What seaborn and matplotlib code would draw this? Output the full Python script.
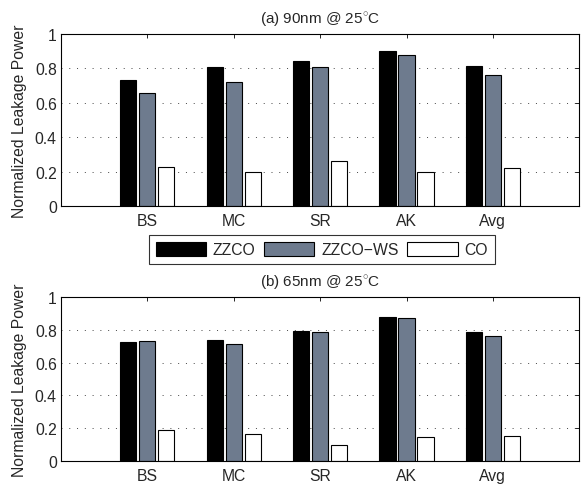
import matplotlib
matplotlib.use("Agg")
import matplotlib.pyplot as plt
import seaborn as sns
import pandas as pd
from matplotlib.ticker import FixedLocator, FuncFormatter

categories = ["BS", "MC", "SR", "AK", "Avg"]
series = ["ZZCO", "ZZCO\u2212WS", "CO"]
zzco_90 = [0.733, 0.806, 0.845, 0.899, 0.812]
zzcows_90 = [0.659, 0.719, 0.806, 0.876, 0.760]
co_90 = [0.229, 0.200, 0.260, 0.198, 0.219]
zzco_65 = [0.725, 0.737, 0.796, 0.880, 0.786]
zzcows_65 = [0.733, 0.713, 0.786, 0.872, 0.764]
co_65 = [0.190, 0.162, 0.096, 0.143, 0.149]
titles = ["(a) 90nm @ 25$^{\\circ}$C", "(b) 65nm @ 25$^{\\circ}$C"]
colors = ["#000000", "#6E7B8E", "#FFFFFF"]

sns.set_theme(style="white")
plt.rcParams['font.family'] = ['Liberation Sans', 'DejaVu Sans']
plt.rcParams['mathtext.fontset'] = 'custom'
plt.rcParams['mathtext.rm'] = 'Liberation Sans'

def make_df(a, b, c):
    rows = []
    for s, vals in zip(series, [a, b, c]):
        for cat, v in zip(categories, vals):
            rows.append({"cat": cat, "series": s, "value": v})
    return pd.DataFrame(rows)

fig = plt.figure(figsize=(5.81, 4.85), dpi=100)
ax1 = fig.add_axes([0.105, 0.573, 0.892, 0.355])
ax2 = fig.add_axes([0.105, 0.048, 0.892, 0.337])

for ax, data, title in [(ax1, (zzco_90, zzcows_90, co_90), titles[0]),
                        (ax2, (zzco_65, zzcows_65, co_65), titles[1])]:
    df = make_df(*data)
    sns.barplot(data=df, x="cat", y="value", hue="series", order=categories,
                hue_order=series, palette=colors, width=0.66, gap=0.15,
                edgecolor="black", linewidth=0.8, ax=ax, legend=(ax is ax1),
                saturation=1)
    ax.set_xlim(-1, 5)
    ax.set_ylim(0, 1)
    ax.yaxis.set_major_locator(FixedLocator([0, 0.2, 0.4, 0.6, 0.8, 1.0]))
    ax.yaxis.set_major_formatter(FuncFormatter(lambda v, p: "%g" % round(v, 1)))
    ax.set_xlabel("")
    ax.set_ylabel("Normalized Leakage Power", fontsize=11.3, labelpad=6)
    ax.set_title(title, fontsize=11, pad=8)
    ax.grid(axis="y", linestyle=(0, (1, 7)), color="#444444", linewidth=0.7)
    ax.set_axisbelow(True)
    ax.tick_params(axis="both", direction="in", length=3, width=0.6,
                   top=True, right=True, labelsize=11.3, pad=5, color="black")
    ax.tick_params(axis="y", pad=3)
    for sp in ax.spines.values():
        sp.set_visible(True)
        sp.set_color("black")
        sp.set_linewidth(0.8)

h, l = ax1.get_legend_handles_labels()
ax1.get_legend().remove()
fig.legend(h, l, loc="center", bbox_to_anchor=(0.554, 0.4835), ncol=3,
           fontsize=11.3, handlelength=3.2, handleheight=1.05, frameon=True,
           fancybox=False, edgecolor="black", borderpad=0.4,
           columnspacing=0.55, handletextpad=0.45, borderaxespad=0)
fig.legends[0].get_frame().set_linewidth(0.8)

fig.savefig("out.png", dpi=100)
